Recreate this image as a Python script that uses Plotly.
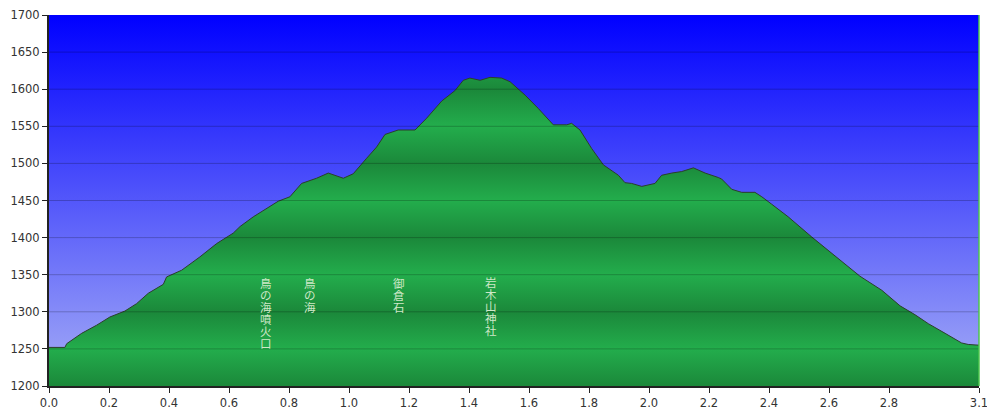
"""Elevation profile: sky and ground gradients with waypoint labels."""
import plotly.graph_objects as go

# distance along the trail (km) and elevation (m)
distance = [
    0.0, 0.053, 0.059, 0.109, 0.159, 0.203, 0.253, 0.292, 0.331, 0.381, 0.392,
    0.442, 0.503, 0.559, 0.614, 0.637, 0.681, 0.726, 0.764, 0.803, 0.842,
    0.892, 0.931, 0.981, 1.014, 1.059, 1.092, 1.120, 1.164, 1.220, 1.259,
    1.309, 1.353, 1.381, 1.403, 1.437, 1.470, 1.509, 1.537, 1.587, 1.631,
    1.681, 1.726, 1.742, 1.770, 1.809, 1.848, 1.898, 1.920, 1.942, 1.976,
    2.020, 2.042, 2.076, 2.109, 2.148, 2.187, 2.231, 2.242, 2.276, 2.309,
    2.353, 2.376, 2.409, 2.464, 2.542, 2.598, 2.653, 2.703, 2.776, 2.837,
    2.887, 2.931, 2.987, 3.042, 3.064, 3.100,
]
elevation = [
    1252, 1252, 1257, 1271, 1282, 1293, 1301, 1311, 1325, 1337, 1347,
    1356, 1374, 1392, 1406, 1415, 1428, 1439, 1449, 1455, 1473,
    1480, 1487, 1480, 1486, 1507, 1522, 1539, 1545, 1545, 1561,
    1584, 1598, 1612, 1615, 1612, 1616, 1615, 1610, 1592, 1574,
    1552, 1552, 1554, 1545, 1520, 1498, 1484, 1474, 1473, 1469,
    1473, 1484, 1487, 1489, 1494, 1487, 1481, 1479, 1465, 1461,
    1461, 1455, 1445, 1428, 1401, 1383, 1365, 1348, 1329, 1308,
    1296, 1284, 1271, 1258, 1256, 1255,
]

# waypoint labels: name, distance (km), elevation of the label top (m)
label_names = ["鳥の海噴火口", "鳥の海", "御倉石", "岩木山神社"]
label_dist = [0.723, 0.87, 1.167, 1.473]
label_top = [1352, 1352, 1352, 1354]

x_ticks = [0.0, 0.2, 0.4, 0.6, 0.8, 1.0, 1.2, 1.4, 1.6, 1.8, 2.0, 2.2, 2.4, 2.6, 2.8, 3.1]
y_ticks = [1200, 1250, 1300, 1350, 1400, 1450, 1500, 1550, 1600, 1650, 1700]

Y_MIN, Y_MAX = y_ticks[0], y_ticks[-1]
GREEN_DARK = "#1b883a"
GREEN_LIGHT = "#23ad4c"
CHAR_PITCH = 12  # px between stacked label characters

# banded ground gradient: dark on the hundreds, light on the fifties
ground_scale = [
    [(v - Y_MIN) / (Y_MAX - Y_MIN), GREEN_DARK if v % 100 == 0 else GREEN_LIGHT]
    for v in y_ticks
]

fig = go.Figure()

# sky
fig.add_trace(go.Scatter(
    x=[distance[0], distance[-1]],
    y=[Y_MAX, Y_MAX],
    mode="lines",
    line=dict(width=0),
    fill="tozeroy",
    fillgradient=dict(
        type="vertical", start=Y_MIN, stop=Y_MAX,
        colorscale=[[0, "#a6aef6"], [1, "#0000ff"]],
    ),
    hoverinfo="skip",
    showlegend=False,
))

# ground
fig.add_trace(go.Scatter(
    x=distance,
    y=elevation,
    mode="lines",
    line=dict(color="#2b3f2b", width=1),
    fill="tozeroy",
    fillgradient=dict(type="vertical", start=Y_MIN, stop=Y_MAX, colorscale=ground_scale),
    hovertemplate="%{x:.2f} km<br>%{y} m<extra></extra>",
    showlegend=False,
))

shapes = [
    dict(type="line", xref="paper", yref="y", x0=0, x1=1, y0=v, y1=v,
         line=dict(color="rgba(0,0,0,0.22)", width=1), layer="above")
    for v in y_ticks[1:-1]
]
# right border of the plot area
shapes.append(dict(type="line", xref="paper", yref="paper", x0=1, x1=1, y0=0, y1=1,
                   line=dict(color="#4cc44c", width=1.5), layer="above"))

# vertical (tategaki) labels, one annotation per character
annotations = []
for name, d, top in zip(label_names, label_dist, label_top):
    for i, ch in enumerate(name):
        annotations.append(dict(
            x=d, y=top, xref="x", yref="y",
            text=ch, showarrow=False,
            xanchor="center", yanchor="top",
            yshift=-CHAR_PITCH * i,
            font=dict(family="Noto Sans CJK JP", size=11.5, color="#cfe8c8"),
        ))

# page body adds an 8px offset, so the figure is sized to fit inside the window
fig.update_layout(
    width=987,
    height=403,
    margin=dict(l=41, r=16, t=7, b=25),
    paper_bgcolor="white",
    plot_bgcolor="white",
    font=dict(family="DejaVu Sans", size=11.5, color="#333333"),
    shapes=shapes,
    annotations=annotations,
    xaxis=dict(
        range=[distance[0], distance[-1]],
        tickvals=x_ticks,
        ticktext=[f"{v:.1f}" for v in x_ticks],
        ticks="outside", ticklen=5, tickcolor="#222",
        showline=True, linecolor="#222", linewidth=2,
        showgrid=False, zeroline=False,
        automargin=False,
        layer="above traces",
    ),
    yaxis=dict(
        range=[Y_MIN, Y_MAX],
        tickvals=y_ticks,
        ticks="outside", ticklen=5, tickcolor="#222",
        showline=True, linecolor="#222", linewidth=2,
        showgrid=False, zeroline=False,
        automargin=False,
        layer="above traces",
    ),
)

fig.write_html("out.html")
